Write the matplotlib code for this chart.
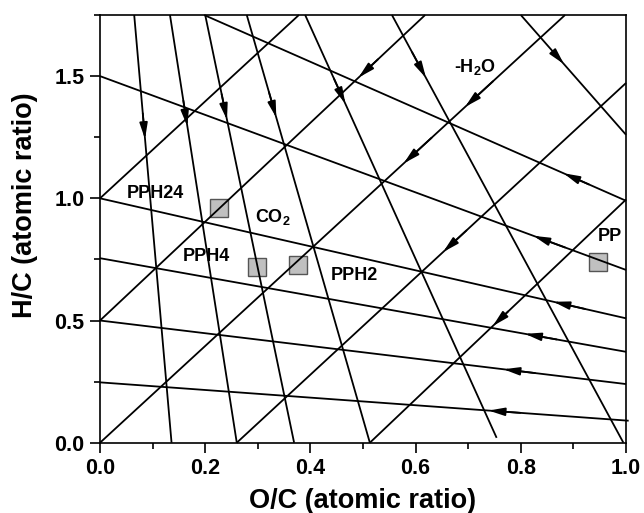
import matplotlib
matplotlib.use('Agg')
import matplotlib.pyplot as plt
from matplotlib.ticker import MultipleLocator

plt.rcParams['font.family'] = ['Liberation Sans', 'DejaVu Sans']
plt.rcParams['font.weight'] = 'bold'
plt.rcParams['mathtext.fontset'] = 'custom'
plt.rcParams['mathtext.rm'] = 'Liberation Sans:bold'
plt.rcParams['mathtext.bf'] = 'Liberation Sans:bold'

# demethanation lines (steep), drawn from top to bottom
ch4_x0 = [0.065, 0.133, 0.200, 0.279, 0.390, 0.555, 0.800]
ch4_y0 = [1.75, 1.75, 1.75, 1.75, 1.75, 1.75, 1.75]
ch4_x1 = [0.136, 0.260, 0.369, 0.513, 0.754, 0.995, 1.000]
ch4_y1 = [0.0, 0.0, 0.0, 0.0, 0.02, 0.0, 1.26]
ch4_arr = [[0.29], [0.26], [0.245], [0.24], [0.21], [0.147], [0.41]]

# decarboxylation lines, drawn from right to left
co2_x0 = [1.0, 1.0, 1.0, 1.0, 1.0, 1.005]
co2_y0 = [0.99, 0.707, 0.509, 0.372, 0.24, 0.09]
co2_x1 = [0.198, 0.0, 0.0, 0.0, 0.0, 0.0]
co2_y1 = [1.75, 1.5, 1.0, 0.755, 0.5, 0.247]
co2_arr = [[0.148], [0.176], [0.138], [0.192], [0.233], [0.265]]

# dehydration lines, drawn from upper right to lower left
h2o_x0 = [0.884, 0.618, 0.378, 1.0, 1.0]
h2o_y0 = [1.75, 1.75, 1.75, 1.472, 0.995]
h2o_x1 = [0.0, 0.0, 0.0, 0.26, 0.513]
h2o_y1 = [0.0, 0.5, 1.0, 0.0, 0.0]
h2o_arr = [[0.215, 0.347], [0.205], [], [0.47], [0.52]]

# samples
names = ['PPH24', 'PPH4', 'PPH2', 'PP']
oc = [0.2266, 0.299, 0.3755, 0.947]
hc = [0.959, 0.720, 0.726, 0.738]
lab_x = [0.106, 0.2015, 0.483, 0.970]
lab_y = [1.019, 0.764, 0.686, 0.843]

fig = plt.figure(figsize=(6.44, 5.13), dpi=100)
ax = fig.add_axes([0.1553, 0.137, 0.8168, 0.8337])

ax.plot(oc, hc, 's', ms=13, mfc='#c0c0c0', mec='#555555', mew=1.0, zorder=2)


def draw_family(x0, y0, x1, y1, arr):
    for i in range(len(x0)):
        ax.plot([x0[i], x1[i]], [y0[i], y1[i]], color='k', lw=1.3, zorder=3,
                solid_capstyle='butt', clip_on=False)
        for t in arr[i]:
            tip = (x0[i] + t * (x1[i] - x0[i]), y0[i] + t * (y1[i] - y0[i]))
            ts = t - 0.06
            tail = (x0[i] + ts * (x1[i] - x0[i]), y0[i] + ts * (y1[i] - y0[i]))
            ax.annotate('', xy=tip, xytext=tail, zorder=4,
                        arrowprops=dict(arrowstyle='-|>,head_length=0.8,head_width=0.2',
                                        color='k', lw=1.3, mutation_scale=12,
                                        shrinkA=0, shrinkB=0))


draw_family(ch4_x0, ch4_y0, ch4_x1, ch4_y1, ch4_arr)
draw_family(co2_x0, co2_y0, co2_x1, co2_y1, co2_arr)
draw_family(h2o_x0, h2o_y0, h2o_x1, h2o_y1, h2o_arr)

for n, x, y in zip(names, lab_x, lab_y):
    ax.text(x, y, n, ha='center', va='center', fontsize=13, fontweight='bold')
ax.text(0.2947, 0.924, r'CO$_\mathbf{2}$', ha='left', va='center', fontsize=13, fontweight='bold')
ax.text(0.713, 1.538, r'-H$_\mathbf{2}$O', ha='center', va='center', fontsize=13, fontweight='bold')

ax.set_xlim(0, 1.0)
ax.set_ylim(0, 1.75)
ax.xaxis.set_major_locator(MultipleLocator(0.2))
ax.xaxis.set_minor_locator(MultipleLocator(0.1))
ax.yaxis.set_major_locator(MultipleLocator(0.5))
ax.yaxis.set_minor_locator(MultipleLocator(0.25))
ax.tick_params(which='major', direction='out', length=7, width=1.2, labelsize=15.5, pad=4)
ax.tick_params(which='minor', direction='out', length=4, width=1.2)
for lbl in ax.get_xticklabels() + ax.get_yticklabels():
    lbl.set_fontweight('bold')
for s in ax.spines.values():
    s.set_linewidth(1.2)

ax.set_xlabel('O/C (atomic ratio)', fontsize=19.5, fontweight='bold')
ax.set_ylabel('H/C (atomic ratio)', fontsize=19.5, fontweight='bold')
ax.xaxis.set_label_coords(0.5, -0.105)
ax.yaxis.set_label_coords(-0.118, 0.556)

fig.savefig('out.png', dpi=100)
